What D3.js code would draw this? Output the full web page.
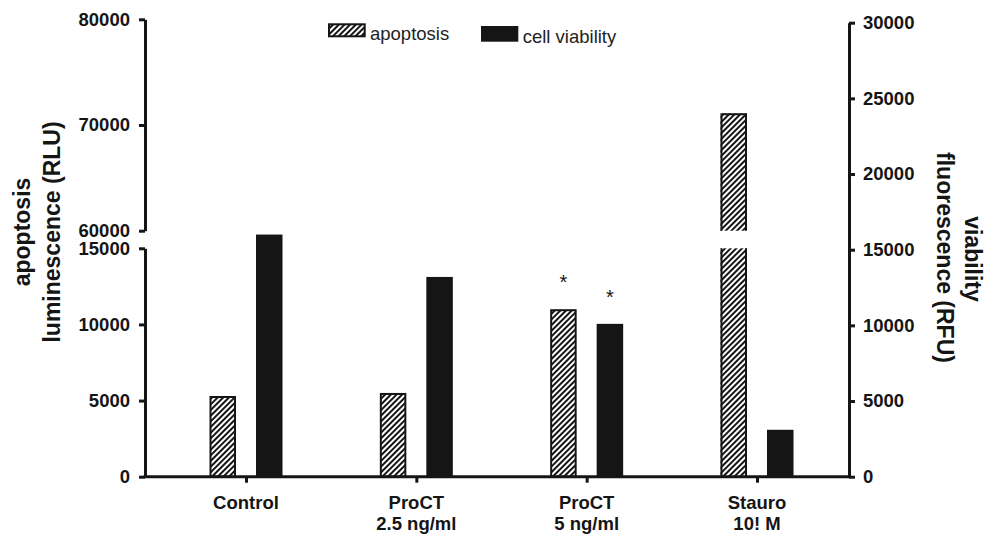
<!DOCTYPE html>
<html>
<head>
<meta charset="utf-8">
<script src="https://cdn.jsdelivr.net/npm/d3@7"></script>
<style>
body { margin: 0; background: #fff; }
svg { display: block; font-family: "Liberation Sans", Arial, Helvetica, sans-serif; }
</style>
</head>
<body>
<svg id="chart" width="992" height="534"></svg>
<script>
// data
var categories = ["Control", "ProCT 2.5 ng/ml", "ProCT 5 ng/ml", "Stauro 10! M"];
var categoryLines = [["Control"], ["ProCT", "2.5 ng/ml"], ["ProCT", "5 ng/ml"], ["Stauro", "10! M"]];
var series = ["apoptosis", "cell viability"];
var apoptosis = [5300, 5500, 11000, 71100];      // RLU, left axis
var viability = [16000, 13200, 10100, 3100];     // RFU, right axis
var apoptosisStar = [false, false, true, false];
var viabilityStar = [false, false, true, false];
var leftUpperTicks = [60000, 70000, 80000];
var leftLowerTicks = [0, 5000, 10000, 15000];
var rightTicks = [0, 5000, 10000, 15000, 20000, 25000, 30000];

var svg = d3.select("#chart");
var ink = "#151515";
var left = 145, right = 849, base = 476.7;

var x = d3.scalePoint().domain(categories).range([246, 757]);
var xs = d3.scaleBand().domain(series).range([-36.5, 36.5]).paddingInner(0.43);
var yLow = d3.scaleLinear().domain([0, 15000]).range([base, 248.3]);
var yUp = d3.scaleLinear().domain([60000, 80000]).range([230.7, 19.3]);
var yR = d3.scaleLinear().domain([0, 30000]).range([base, 22.7]);

// hatch fill
var pat = svg.append("defs").append("pattern")
    .attr("id", "hatch")
    .attr("patternUnits", "userSpaceOnUse")
    .attr("width", 4).attr("height", 4)
    .attr("patternTransform", "rotate(45)");
pat.append("rect").attr("width", 4).attr("height", 4).attr("fill", "#fff");
pat.append("rect").attr("width", 2).attr("height", 4).attr("fill", ink);

var rows = categories.map(function (c, i) {
    return { cat: c, lines: categoryLines[i], apop: apoptosis[i], viab: viability[i],
             apopStar: apoptosisStar[i], viabStar: viabilityStar[i] };
});

var groups = svg.selectAll("g.group").data(rows).join("g")
    .attr("class", "group")
    .attr("transform", function (d) { return "translate(" + x(d.cat) + ",0)"; });

var bw = xs.bandwidth(), ax = xs("apoptosis"), vx = xs("cell viability");

// apoptosis bars (hatched), broken ones in two pieces
groups.each(function (d) {
    var g = d3.select(this);
    if (d.apop <= 15000) {
        g.append("rect")
            .attr("x", ax + 1).attr("y", yLow(d.apop) + 1)
            .attr("width", bw - 2).attr("height", base - yLow(d.apop) - 1)
            .attr("fill", "url(#hatch)").attr("stroke", ink).attr("stroke-width", 2);
    } else {
        g.append("rect")
            .attr("x", ax).attr("y", yUp(d.apop))
            .attr("width", bw).attr("height", yUp(60000) - yUp(d.apop))
            .attr("fill", "url(#hatch)");
        g.append("path")
            .attr("d", "M" + (ax + 1) + "," + yUp(60000) + "V" + (yUp(d.apop) + 1) +
                       "H" + (ax + bw - 1) + "V" + yUp(60000))
            .attr("fill", "none").attr("stroke", ink).attr("stroke-width", 2);
        g.append("rect")
            .attr("x", ax).attr("y", yLow(15000))
            .attr("width", bw).attr("height", base - yLow(15000))
            .attr("fill", "url(#hatch)");
        g.append("path")
            .attr("d", "M" + (ax + 1) + "," + yLow(15000) + "V" + base +
                       "M" + (ax + bw - 1) + "," + yLow(15000) + "V" + base)
            .attr("fill", "none").attr("stroke", ink).attr("stroke-width", 2);
    }
    var top = d.apop <= 15000 ? yLow(d.apop) : yUp(d.apop);
    if (d.apopStar) {
        g.append("text").attr("x", ax + bw / 2).attr("y", top - 20)
            .attr("text-anchor", "middle").attr("font-size", 20).attr("fill", ink).text("*");
    }
});

// viability bars (solid)
groups.append("rect")
    .attr("x", vx).attr("y", function (d) { return yR(d.viab); })
    .attr("width", bw).attr("height", function (d) { return base - yR(d.viab); })
    .attr("fill", ink);

groups.filter(function (d) { return d.viabStar; }).append("text")
    .attr("x", vx + bw / 2).attr("y", function (d) { return yR(d.viab) - 20; })
    .attr("text-anchor", "middle").attr("font-size", 20).attr("fill", ink).text("*");

// axes
function styleAxis(g) {
    g.selectAll("path, line").attr("stroke", ink).attr("stroke-width", 3);
    g.selectAll("text").attr("fill", ink).attr("font-size", 18.5).attr("font-weight", "bold");
}

svg.append("g").attr("transform", "translate(" + left + ",0)")
    .call(d3.axisLeft(yUp).tickValues(leftUpperTicks).tickSize(6).tickSizeOuter(0).tickPadding(9).tickFormat(d3.format("d")))
    .call(styleAxis);
svg.append("g").attr("transform", "translate(" + left + ",0)")
    .call(d3.axisLeft(yLow).tickValues(leftLowerTicks).tickSize(6).tickSizeOuter(0).tickPadding(9).tickFormat(d3.format("d")))
    .call(styleAxis);
svg.append("g").attr("transform", "translate(" + right + ",0)")
    .call(d3.axisRight(yR).tickValues(rightTicks).tickSize(6).tickSizeOuter(0).tickPadding(8).tickFormat(d3.format("d")))
    .call(styleAxis);

var xAxis = svg.append("g").attr("transform", "translate(0," + base + ")")
    .call(d3.axisBottom(x).tickSize(6).tickSizeOuter(0).tickFormat(""))
    .call(function (g) { g.select(".domain").remove(); })
    .call(styleAxis);
xAxis.append("line")
    .attr("x1", left - 1.5).attr("x2", right + 1.5)
    .attr("stroke", ink).attr("stroke-width", 3);

// category labels
svg.append("g").selectAll("text").data(rows).join("text")
    .attr("text-anchor", "middle").attr("font-size", 18.5).attr("font-weight", "bold").attr("fill", ink)
    .each(function (d) {
        d3.select(this).selectAll("tspan").data(d.lines).join("tspan")
            .attr("x", x(d.cat))
            .attr("y", function (t, j) { return 509 + j * 21; })
            .text(function (t) { return t; });
    });

// axis titles
function title(tx, ty, rot, str) {
    svg.append("text")
        .attr("transform", "translate(" + tx + "," + ty + ") rotate(" + rot + ")")
        .attr("text-anchor", "middle").attr("font-size", 23).attr("font-weight", "bold")
        .attr("fill", ink).text(str);
}
title(29.5, 232, -90, "apoptosis");
title(59.5, 232, -90, "luminescence (RLU)");
title(965, 259, 90, "viability");
title(937, 257.5, 90, "fluorescence (RFU)");

// legend
svg.append("rect").attr("x", 329).attr("y", 24.3).attr("width", 35.7).attr("height", 12)
    .attr("fill", "url(#hatch)").attr("stroke", ink).attr("stroke-width", 2);
svg.append("text").attr("x", 370).attr("y", 39.5).attr("font-size", 18.5).attr("fill", "#222").text(series[0]);
svg.append("rect").attr("x", 481).attr("y", 26).attr("width", 37.3).attr("height", 15.7).attr("fill", ink);
svg.append("text").attr("x", 522.7).attr("y", 43).attr("font-size", 18.5).attr("fill", "#222").text(series[1]);
</script>
</body>
</html>
